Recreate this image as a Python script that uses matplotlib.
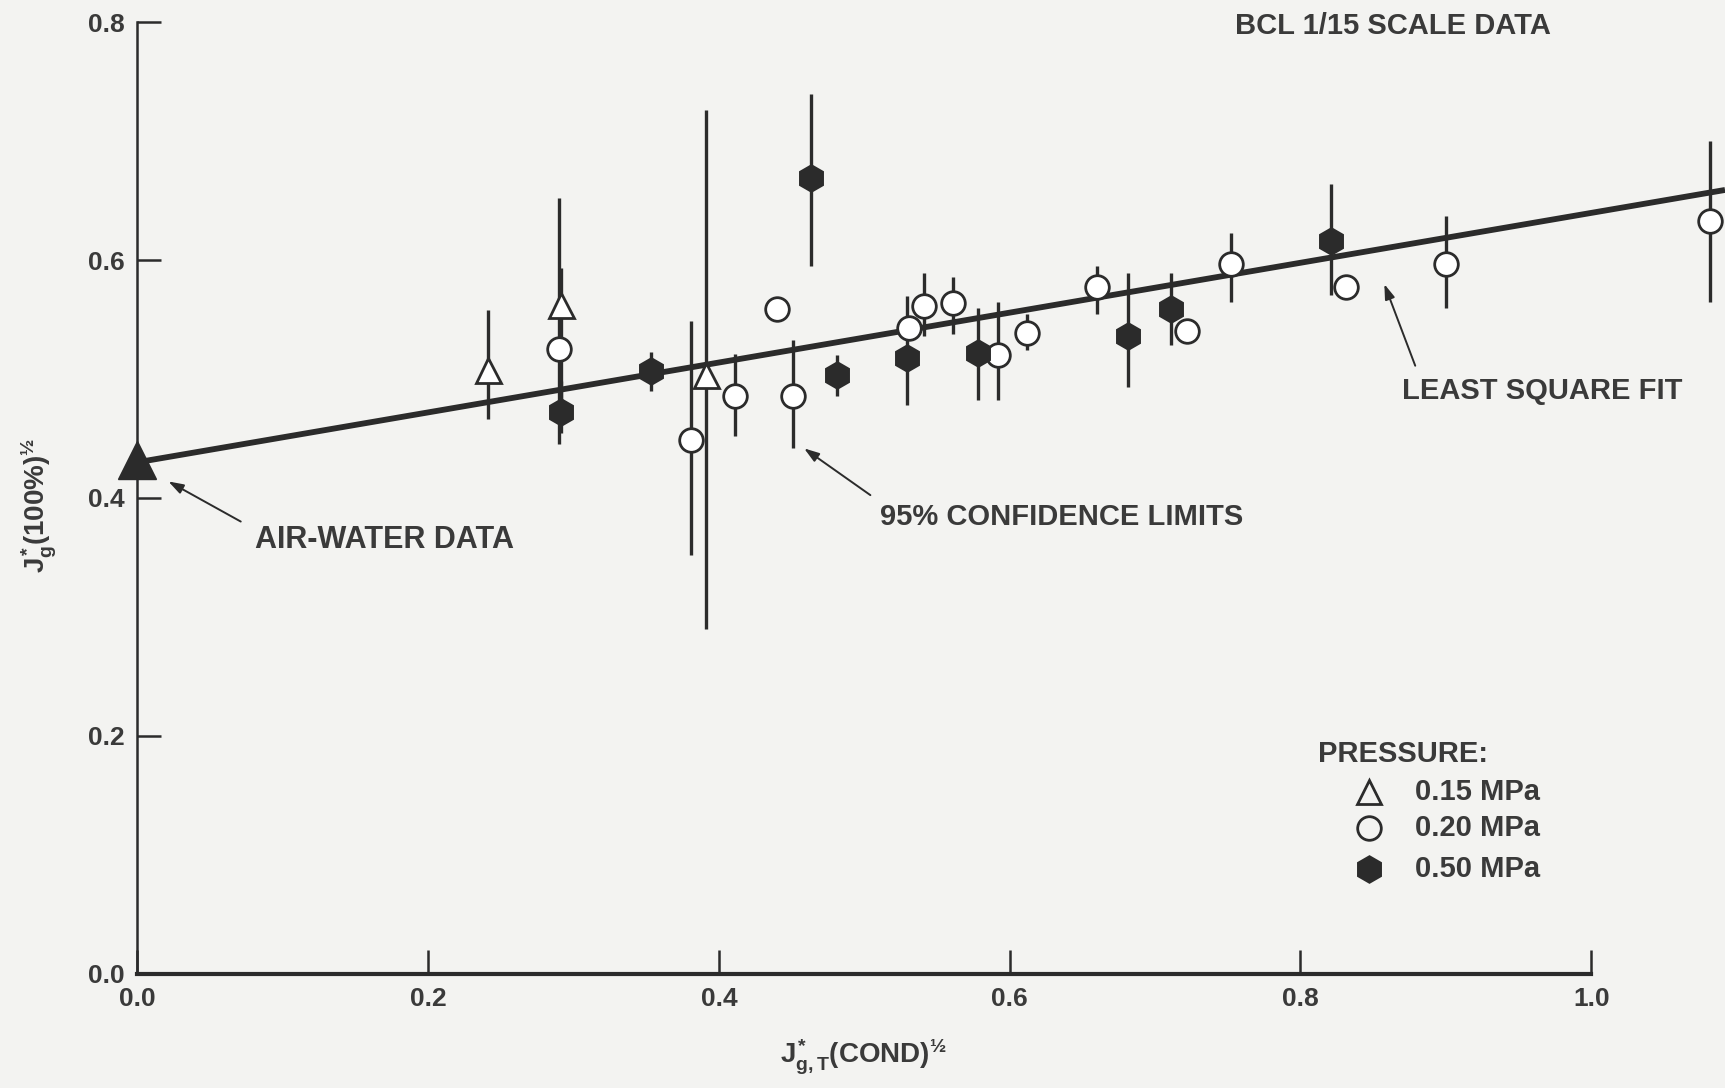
import numpy as np
import matplotlib
matplotlib.use("Agg")
import matplotlib.pyplot as plt

nan = np.nan

# ---- data ----
# 0.15 MPa (open triangles)
tri_x = [0.241, 0.291, 0.391]
tri_y = [0.508, 0.562, 0.503]
tri_lo = [0.466, 0.462, 0.290]
tri_hi = [0.558, 0.593, 0.726]

# 0.20 MPa (open circles)
circ_x = [0.290, 0.381, 0.411, 0.440, 0.451, 0.531, 0.541, 0.561, 0.592, 0.612,
          0.660, 0.722, 0.752, 0.831, 0.900, 1.082]
circ_y = [0.525, 0.449, 0.486, 0.559, 0.486, 0.543, 0.561, 0.564, 0.520, 0.539,
          0.577, 0.540, 0.597, 0.577, 0.597, 0.633]
circ_lo = [0.445, 0.352, 0.452, nan, 0.442, nan, 0.536, 0.538, 0.482, 0.524,
           0.555, nan, 0.565, nan, 0.560, 0.565]
circ_hi = [0.652, 0.549, 0.521, nan, 0.533, nan, 0.589, 0.586, 0.565, 0.555,
           0.595, nan, 0.623, nan, 0.637, 0.700]

# 0.50 MPa (filled hexagons)
hex_x = [0.291, 0.353, 0.463, 0.481, 0.529, 0.578, 0.681, 0.711, 0.821]
hex_y = [0.472, 0.507, 0.669, 0.503, 0.518, 0.522, 0.536, 0.559, 0.616]
hex_lo = [0.455, 0.490, 0.595, 0.486, 0.478, 0.482, 0.493, 0.529, 0.571]
hex_hi = [0.498, 0.523, 0.740, 0.520, 0.570, 0.560, 0.589, 0.589, 0.664]

# air-water data point
air_x = [0.0]
air_y = [0.432]

# least-square fit line end points
fit_x = [0.0, 1.092]
fit_y = [0.430, 0.659]

x_ticks = [0.0, 0.2, 0.4, 0.6, 0.8, 1.0]
x_ticklabels = ["0.0", "0.2", "0.4", "0.6", "0.8", "1.0"]
y_ticks = [0.0, 0.2, 0.4, 0.6, 0.8]
y_ticklabels = ["0.0", "0.2", "0.4", "0.6", "0.8"]
legend_labels = ["0.15 MPa", "0.20 MPa", "0.50 MPa"]

# ---- style ----
BG = "#f3f3f1"
INK = "#2b2b2b"
TXT = "#3a3a3a"
FONT = ["Liberation Sans", "DejaVu Sans"]
plt.rcParams["font.family"] = FONT
plt.rcParams["mathtext.fontset"] = "custom"
plt.rcParams["mathtext.rm"] = "Liberation Sans:bold"
plt.rcParams["mathtext.it"] = "Liberation Sans:bold"
plt.rcParams["mathtext.bf"] = "Liberation Sans:bold"

fig = plt.figure(figsize=(17.25, 10.88), dpi=100, facecolor=BG)
ax = fig.add_axes([0.0797, 0.1052, 0.9203, 0.8743])
ax.set_facecolor(BG)
ax.set_xlim(0, 1.092)
ax.set_ylim(0, 0.8)


def yerr(y, lo, hi):
    y = np.asarray(y, float)
    return np.vstack([y - np.asarray(lo, float), np.asarray(hi, float) - y])


eb_kw = dict(fmt="none", ecolor=INK, elinewidth=2.4, capsize=0, zorder=2)
ax.errorbar(tri_x, tri_y, yerr=yerr(tri_y, tri_lo, tri_hi), **eb_kw)
ax.errorbar(circ_x, circ_y, yerr=yerr(circ_y, circ_lo, circ_hi), **eb_kw)
ax.errorbar(hex_x, hex_y, yerr=yerr(hex_y, hex_lo, hex_hi), **eb_kw)

ax.plot(fit_x, fit_y, color=INK, lw=4.2, zorder=3, solid_capstyle="butt")

ax.plot(tri_x, tri_y, ls="none", marker="^", ms=18, mfc="white", mec=INK,
        mew=2.0, zorder=4)
ax.plot(circ_x, circ_y, ls="none", marker="o", ms=17, mfc="white", mec=INK,
        mew=2.0, zorder=4)
ax.plot(hex_x, hex_y, ls="none", marker="h", ms=19, mfc=INK, mec=INK,
        mew=1.5, zorder=4)
ax.plot(air_x, air_y, ls="none", marker="^", ms=27, mfc=INK, mec=INK,
        zorder=5, clip_on=False)

# ---- axes ----
for s in ["top", "right"]:
    ax.spines[s].set_visible(False)
ax.spines["left"].set_bounds(0, 0.8)
ax.spines["bottom"].set_bounds(0, 1.0)
for s in ["left", "bottom"]:
    ax.spines[s].set_linewidth(1.8)
    ax.spines[s].set_color(INK)
ax.spines["bottom"].set_linewidth(3.0)

ax.set_xticks(x_ticks)
ax.set_xticklabels(x_ticklabels)
ax.set_yticks(y_ticks)
ax.set_yticklabels(y_ticklabels)
ax.tick_params(axis="both", direction="in", length=17, width=1.8,
               color=INK, labelsize=19, labelcolor=TXT)
ax.tick_params(axis="x", pad=10)
ax.tick_params(axis="y", pad=9)
for lab in ax.get_xticklabels() + ax.get_yticklabels():
    lab.set_fontweight("bold")

fig.text(0.0223, 0.535, r"$J^{*}_{g}$(100%)$^{½}$", rotation=90,
         ha="center", va="center", fontsize=20, color=TXT, fontweight="bold")
fig.text(0.5005, 0.029, r"$J^{*}_{g,T}$(COND)$^{½}$", ha="center",
         va="center", fontsize=20, color=TXT, fontweight="bold")

# ---- annotations ----
tkw = dict(fontsize=21, color=TXT, fontweight="bold")
ax.text(0.8635, 0.797, "BCL 1/15 SCALE DATA", ha="center", va="center", **tkw)

akw = dict(arrowstyle="-|>,head_length=0.9,head_width=0.3", color=INK, lw=1.4)

ax.text(0.870, 0.490, "LEAST SQUARE FIT", ha="left", va="center", **tkw)
ax.annotate("", xy=(0.857, 0.582), xytext=(0.8796, 0.509), arrowprops=akw)

ax.text(0.511, 0.384, "95% CONFIDENCE LIMITS", ha="left", va="center", **tkw)
ax.annotate("", xy=(0.457, 0.443), xytext=(0.5057, 0.401), arrowprops=akw)

ax.text(0.081, 0.365, "AIR-WATER DATA", ha="left", va="center",
        **{**tkw, "fontsize": 22})
ax.annotate("", xy=(0.0196, 0.415), xytext=(0.0727, 0.379), arrowprops=akw)

# ---- legend ----
ax.text(0.812, 0.185, "PRESSURE:", ha="left", va="center", **tkw)
leg_y = [0.153, 0.1225, 0.088]
leg_style = [dict(marker="^", mfc="none", mec=INK, mew=2.0, ms=17),
             dict(marker="o", mfc="none", mec=INK, mew=2.0, ms=17),
             dict(marker="h", mfc=INK, mec=INK, mew=1.5, ms=19)]
for yy, lab, st in zip(leg_y, legend_labels, leg_style):
    ax.plot([0.847], [yy], ls="none", **st)
    ax.text(0.879, yy, lab, ha="left", va="center", **tkw)

fig.savefig("out.png", dpi=100, facecolor=BG)
